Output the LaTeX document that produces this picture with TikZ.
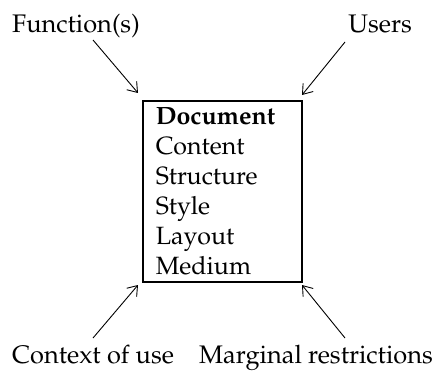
\documentclass[tikz,border=0pt]{standalone}
\usepackage[T1]{fontenc}
\usepackage{mathpazo}
\usetikzlibrary{arrows.meta}
\tikzset{
  lbl/.style={inner sep=0pt, font=\fontsize{25.4}{30}\selectfont},
  docbox/.style={draw, line width=1.5pt, anchor=north west, align=left,
    minimum width=159pt, minimum height=181pt, inner xsep=13pt,
    text width=133pt, font=\fontsize{25}{30}\selectfont},
  arr/.style={line width=0.9pt, -{Straight Barb[length=9pt,width=13pt]}}
}
\begin{document}
\begin{tikzpicture}[x=1pt,y=1pt]
\useasboundingbox (0,0) rectangle (435,370);
\node[docbox] (doc) at (142,270) {\textbf{Document}\\Content\\Structure\\Style\\Layout\\Medium};
\node[lbl, anchor=base west] (fun) at (12,337) {Function(s)};
\node[lbl, anchor=base east] (usr) at (412,337) {Users};
\node[lbl, anchor=base west] (ctx) at (12,7) {Context of use};
\node[lbl, anchor=base east] (mar) at (433,7) {Marginal restrictions};
\coordinate (ft) at (93,330);
\coordinate (ut) at (345,328);
\coordinate (ct) at (93,32);
\coordinate (mt) at (345,32);
\coordinate (fh) at (138,277);
\coordinate (uh) at (302,275);
\coordinate (ch) at (138,85);
\coordinate (mh) at (302,85);
\draw[arr] (ft) -- (fh);
\draw[arr] (ut) -- (uh);
\draw[arr] (ct) -- (ch);
\draw[arr] (mt) -- (mh);
\end{tikzpicture}
\end{document}
